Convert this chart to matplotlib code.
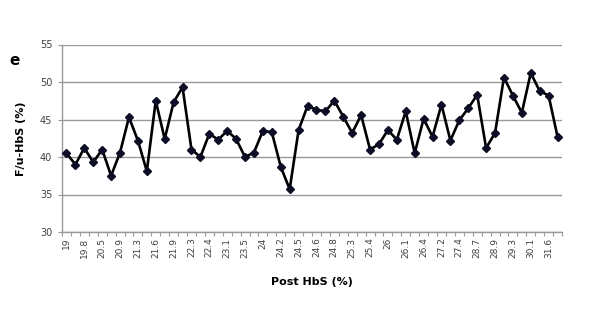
import numpy as np
import matplotlib
matplotlib.use("Agg")
import matplotlib.pyplot as plt

# F/u-HbS (%) for each of the 56 samples, ordered by post HbS
fu_hbs = [
    40.5, 39.0, 41.2, 39.3, 41.0, 37.5, 40.6, 45.3, 42.2, 38.1,
    47.5, 42.4, 47.3, 49.3, 41.0, 40.0, 43.1, 42.3, 43.5, 42.4,
    40.0, 40.6, 43.5, 43.3, 38.7, 35.7, 43.6, 46.8, 46.3, 46.1,
    47.5, 45.4, 43.2, 45.6, 41.0, 41.7, 43.6, 42.3, 46.1, 40.5,
    45.1, 42.7, 47.0, 42.2, 44.9, 46.5, 48.3, 41.2, 43.2, 50.6,
    48.2, 45.9, 51.2, 48.8, 48.2, 42.7,
]
# only every other category is labelled on the axis
tick_labels = [
    "19", "19.8", "20.5", "20.9", "21.3", "21.6", "21.9", "22.3", "22.4", "23.1",
    "23.5", "24", "24.2", "24.5", "24.6", "24.8", "25.3", "25.4", "26", "26.1",
    "26.4", "27.2", "27.4", "28.7", "28.9", "29.3", "30.1", "31.6",
]
y_ticks = [30, 35, 40, 45, 50, 55]

GRID = "#999999"
TEXT = "#404040"

fig = plt.figure(figsize=(6.11, 3.10), dpi=100)
ax = fig.add_axes([62 / 611, 1 - 232 / 310, 500 / 611, (232 - 44.5) / 310])

x = np.arange(len(fu_hbs))
ax.plot(x, fu_hbs, color="black", linewidth=1.9, zorder=3)
ax.plot(x, fu_hbs, linestyle="None", marker="D", markersize=4.4,
        markerfacecolor="#0d0d26", markeredgecolor="#0d0d26", zorder=4)

ax.set_xlim(-0.5, len(fu_hbs) - 0.5)
ax.set_ylim(30, 55)
ax.set_yticks(y_ticks)
ax.yaxis.grid(True, color=GRID, linewidth=1.0)
ax.set_axisbelow(True)

ax.set_xticks(np.arange(0, len(fu_hbs), 2))
ax.set_xticklabels(tick_labels, rotation=90, fontsize=6.5, color=TEXT)
ax.set_xticks(np.arange(-0.5, len(fu_hbs), 1), minor=True)
ax.tick_params(axis="x", which="major", length=0, pad=4)
ax.tick_params(axis="x", which="minor", length=3, color=GRID, width=0.8)
ax.tick_params(axis="y", length=3, color=GRID, width=0.8, labelsize=7,
               labelcolor=TEXT, pad=4)

for side in ["top", "right"]:
    ax.spines[side].set_visible(False)
for side in ["left", "bottom"]:
    ax.spines[side].set_color(GRID)
    ax.spines[side].set_linewidth(1.0)

ax.set_ylabel("F/u-HbS (%)", fontsize=8, fontweight="bold", labelpad=10)
ax.set_xlabel("Post HbS (%)", fontsize=8, fontweight="bold", labelpad=14)
fig.text(15 / 611, 1 - 60 / 310, "e", fontsize=11, fontweight="bold",
         ha="center", va="center")

fig.savefig("out.png", dpi=100)
